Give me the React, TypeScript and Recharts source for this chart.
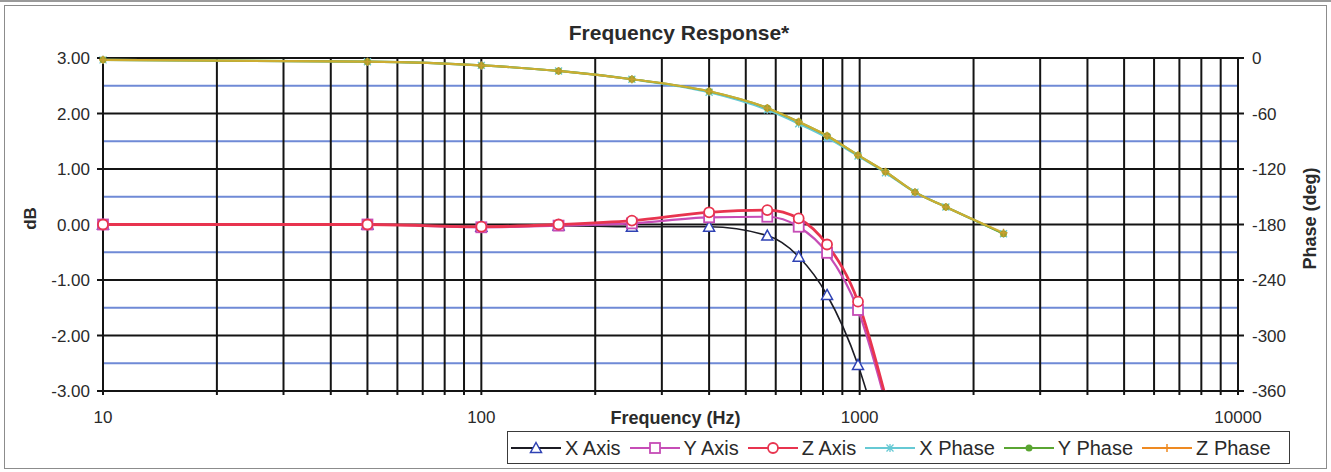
import React from 'react';
import { LineChart, Line, XAxis, YAxis, CartesianGrid, Label } from 'recharts';

// ---- data ----
const frequencies = [10, 50, 100, 160, 250, 400, 570, 690, 820, 990, 1170, 1400, 1690, 2400];
const xAxisDb = [0, 0, -0.04, -0.02, -0.04, -0.04, -0.2, -0.58, -1.27, -2.53, -4.2];
const yAxisDb = [0, 0, -0.05, -0.02, 0.02, 0.13, 0.14, -0.04, -0.51, -1.54, -3.2];
const zAxisDb = [0, 0, -0.04, 0.0, 0.07, 0.22, 0.26, 0.11, -0.36, -1.39, -3.1];
const xPhase = [-2, -4, -8, -14, -23, -37, -56, -71, -86, -106, -124, -145, -161, -190];
const yPhase = [-2, -4, -8, -14, -23, -36, -54, -69, -84, -105, -123, -145, -161, -190];
const zPhase = [-2, -4, -8, -14, -23, -36, -54, -69, -84, -105, -123, -145, -161, -189];

const xTicks = [
  10, 20, 30, 40, 50, 60, 70, 80, 90,
  100, 200, 300, 400, 500, 600, 700, 800, 900,
  1000, 2000, 3000, 4000, 5000, 6000, 7000, 8000, 9000, 10000,
];
const xTickLabels = [10, 100, 1000, 10000];
const dbTicks = [-3, -2, -1, 0, 1, 2, 3];
const dbMinorTicks = [-2.5, -1.5, -0.5, 0.5, 1.5, 2.5];
const phaseTicks = [-360, -300, -240, -180, -120, -60, 0];

const rows = frequencies.map((f, i) => ({
  freq: f,
  xDb: xAxisDb[i],
  yDb: yAxisDb[i],
  zDb: zAxisDb[i],
  xPh: xPhase[i],
  yPh: yPhase[i],
  zPh: zPhase[i],
}));

const FONT = '"Liberation Sans", Arial, sans-serif';

const C = {
  xLine: '#1c1c24',
  xMark: '#2f42b4',
  y: '#c64cb6',
  z: '#e8344f',
  xPh: '#66c9d4',
  yPh: '#5aa532',
  zPh: '#ee8a22',
  major: '#141414',
  minor: '#6f8ad6',
};

type MarkerKind = 'triangle' | 'square' | 'circle' | 'star' | 'dot' | 'plus';

function marker(kind: MarkerKind, cx: number, cy: number, color: string, key?: string) {
  switch (kind) {
    case 'triangle':
      return (
        <path key={key} d={`M${cx},${cy - 5.5} L${cx + 5.5},${cy + 4.5} L${cx - 5.5},${cy + 4.5} Z`}
          fill="#fff" stroke={color} strokeWidth={1.5} />
      );
    case 'square':
      return <rect key={key} x={cx - 5} y={cy - 5} width={10} height={10} fill="#fff" stroke={color} strokeWidth={1.8} />;
    case 'circle':
      return <circle key={key} cx={cx} cy={cy} r={5} fill="#fff" stroke={color} strokeWidth={1.8} />;
    case 'star':
      return (
        <path key={key} d={`M${cx - 3.5},${cy - 3.5} L${cx + 3.5},${cy + 3.5} M${cx - 3.5},${cy + 3.5} L${cx + 3.5},${cy - 3.5} M${cx},${cy - 4} L${cx},${cy + 4}`}
          stroke={color} strokeWidth={1.3} fill="none" />
      );
    case 'dot':
      return <circle key={key} cx={cx} cy={cy} r={3.5} fill={color} stroke="none" />;
    case 'plus':
    default:
      return (
        <path key={key} d={`M${cx - 4},${cy} L${cx + 4},${cy} M${cx},${cy - 4} L${cx},${cy + 4}`}
          stroke={color} strokeWidth={1.5} fill="none" />
      );
  }
}

const dotRenderer = (kind: MarkerKind, color: string) => (props: any) => {
  const { cx, cy, index } = props;
  if (cx == null || cy == null || !isFinite(cx) || !isFinite(cy)) return <g key={`e-${index}`} />;
  return marker(kind, cx, cy, color, `m-${index}`);
};

const legendItems: { name: string; line: string; mark: string; kind: MarkerKind }[] = [
  { name: 'X Axis', line: C.xLine, mark: C.xMark, kind: 'triangle' },
  { name: 'Y Axis', line: C.y, mark: C.y, kind: 'square' },
  { name: 'Z Axis', line: C.z, mark: C.z, kind: 'circle' },
  { name: 'X Phase', line: C.xPh, mark: C.xPh, kind: 'star' },
  { name: 'Y Phase', line: C.yPh, mark: C.yPh, kind: 'dot' },
  { name: 'Z Phase', line: C.zPh, mark: C.zPh, kind: 'plus' },
];

export default function App() {
  return (
    <div style={{ position: 'absolute', left: 0, top: 0, width: 1331, height: 472, background: '#fff', overflow: 'hidden', fontFamily: FONT }}>
      <div style={{ position: 'absolute', left: 0, top: 0, width: 1331, height: 2, background: '#9a9a9a' }} />
      <div style={{ position: 'absolute', left: 4, top: 5, width: 1323, height: 464, border: '1.5px solid #8c8c8c', boxSizing: 'border-box' }} />
      <div style={{ position: 'absolute', left: 479, top: 21, width: 400, textAlign: 'center', fontSize: 21, fontWeight: 'bold', lineHeight: '24px', color: '#2a2a2a' }}>
        Frequency Response*
      </div>
      <div style={{ position: 'absolute', left: 0, top: 0 }}>
        <LineChart width={1331} height={472} data={rows} margin={{ top: 58, right: 0, bottom: 51, left: 0 }}>
          <CartesianGrid yAxisId="minor" vertical={false} stroke={C.minor} strokeWidth={2} />
          <CartesianGrid yAxisId="db" stroke={C.major} strokeWidth={2} />
          <XAxis
            dataKey="freq"
            type="number"
            scale="log"
            domain={[10, 10000]}
            ticks={xTicks}
            interval={0}
            tickFormatter={(v: number) => (xTickLabels.includes(v) ? String(v) : '')}
            height={30}
            tickSize={4}
            tickMargin={16}
            stroke={C.major}
            strokeWidth={2}
            tick={{ fontSize: 17, fill: '#2a2a2a', fontFamily: FONT }}
          >
            <Label
              content={(p: any) => {
                const vb = p.viewBox || {};
                return (
                  <text x={vb.x + vb.width / 2 + 5} y={vb.y + 33} textAnchor="middle" fontSize={18} fontWeight="bold" fill="#2a2a2a" fontFamily={FONT}>
                    Frequency (Hz)
                  </text>
                );
              }}
            />
          </XAxis>
          <YAxis
            yAxisId="db"
            orientation="left"
            domain={[-3, 3]}
            ticks={dbTicks}
            allowDataOverflow
            width={103}
            tickSize={6}
            tickMargin={7}
            stroke={C.major}
            strokeWidth={2}
            tickFormatter={(v: number) => v.toFixed(2)}
            tick={{ fontSize: 17, fill: '#2a2a2a', fontFamily: FONT }}
          >
            <Label
              content={(p: any) => {
                const vb = p.viewBox || {};
                const x = vb.x + 30;
                const y = vb.y + vb.height / 2 - 6;
                return (
                  <text x={x} y={y} transform={`rotate(-90 ${x} ${y})`} textAnchor="middle" dominantBaseline="central" fontSize={17} fontWeight="bold" fill="#2a2a2a" fontFamily={FONT}>
                    dB
                  </text>
                );
              }}
            />
          </YAxis>
          <YAxis yAxisId="minor" hide domain={[-3, 3]} ticks={dbMinorTicks} allowDataOverflow />
          <YAxis
            yAxisId="phase"
            orientation="right"
            domain={[-360, 0]}
            ticks={phaseTicks}
            width={93}
            tickSize={6}
            tickMargin={8}
            stroke={C.major}
            strokeWidth={2}
            tick={{ fontSize: 17, fill: '#2a2a2a', fontFamily: FONT }}
          >
            <Label
              content={(p: any) => {
                const vb = p.viewBox || {};
                const x = vb.x + 72;
                const y = vb.y + vb.height / 2 - 6;
                return (
                  <text x={x} y={y} transform={`rotate(-90 ${x} ${y})`} textAnchor="middle" dominantBaseline="central" fontSize={18} fontWeight="bold" fill="#2a2a2a" fontFamily={FONT}>
                    Phase (deg)
                  </text>
                );
              }}
            />
          </YAxis>

          <Line yAxisId="db" dataKey="xDb" type="monotone" stroke={C.xLine} strokeWidth={1.6} dot={dotRenderer('triangle', C.xMark)} activeDot={false} isAnimationActive={false} />
          <Line yAxisId="db" dataKey="yDb" type="monotone" stroke={C.y} strokeWidth={2.2} dot={dotRenderer('square', C.y)} activeDot={false} isAnimationActive={false} />
          <Line yAxisId="db" dataKey="zDb" type="monotone" stroke={C.z} strokeWidth={2.8} dot={dotRenderer('circle', C.z)} activeDot={false} isAnimationActive={false} />
          <Line yAxisId="phase" dataKey="xPh" type="monotone" stroke={C.xPh} strokeWidth={2.2} dot={dotRenderer('star', C.xPh)} activeDot={false} isAnimationActive={false} />
          <Line yAxisId="phase" dataKey="yPh" type="monotone" stroke={C.yPh} strokeWidth={2.2} dot={dotRenderer('dot', '#a0a02c')} activeDot={false} isAnimationActive={false} />
          <Line yAxisId="phase" dataKey="zPh" type="monotone" stroke="#dcae32" strokeOpacity={0.88} strokeWidth={2.2} dot={dotRenderer('plus', '#c8a030')} activeDot={false} isAnimationActive={false} />
        </LineChart>
      </div>
      <div style={{ position: 'absolute', left: 507, top: 431, width: 783, height: 33, border: '1.5px solid #3a3a3a', boxSizing: 'border-box', display: 'flex', alignItems: 'center', paddingLeft: 3, background: '#fff' }}>
        {legendItems.map((it) => (
          <div key={it.name} style={{ display: 'flex', alignItems: 'center', marginRight: 9 }}>
            <svg width={50} height={20} style={{ display: 'block' }}>
              <line x1={0} y1={10} x2={50} y2={10} stroke={it.line} strokeWidth={2} />
              {marker(it.kind, 25, 10, it.mark)}
            </svg>
            <span style={{ fontSize: 20, color: '#2a2a2a', marginLeft: 4, lineHeight: '22px', whiteSpace: 'nowrap' }}>{it.name}</span>
          </div>
        ))}
      </div>
    </div>
  );
}
